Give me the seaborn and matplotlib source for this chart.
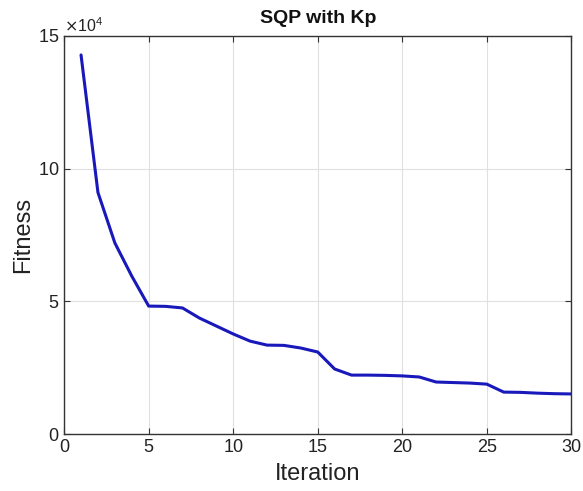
import matplotlib
matplotlib.use("Agg")
import matplotlib.pyplot as plt
import seaborn as sns
import pandas as pd

# Convergence values
iterations = list(range(1, 31))
fitness = [142800, 91000, 72000, 59500, 48200, 48100, 47500, 43700, 40700, 37700,
           35000, 33500, 33400, 32400, 30900, 24500, 22200, 22200, 22100, 21900,
           21500, 19600, 19400, 19200, 18800, 15800, 15700, 15400, 15200, 15100]

x_ticks = [0, 5, 10, 15, 20, 25, 30]
y_ticks = [0, 50000, 100000, 150000]

sns.set_theme(style="whitegrid")
plt.rcParams["font.family"] = ["Liberation Sans", "DejaVu Sans"]

df = pd.DataFrame({"Iteration": iterations, "Fitness": fitness})

fig = plt.figure(figsize=(5.83, 4.91), dpi=100)
ax = fig.add_axes([0.110, 0.116, 0.870, 0.811])

sns.lineplot(data=df, x="Iteration", y="Fitness", ax=ax,
             color="#1818bb", linewidth=2.2)

ax.set_xlim(0, 30)
ax.set_ylim(0, 150000)
ax.set_xticks(x_ticks)
ax.set_yticks(y_ticks)
ax.ticklabel_format(axis="y", style="sci", scilimits=(4, 4), useMathText=True)
ax.yaxis.get_offset_text().set_fontsize(11.5)
ax.yaxis.get_offset_text().set_color("#333333")

ax.grid(True, color="#e0e0e0", linewidth=0.8)
ax.set_facecolor("white")
for s in ax.spines.values():
    s.set_visible(True)
    s.set_color("#333333")
    s.set_linewidth(1.0)

ax.tick_params(direction="in", length=4, width=0.8, color="#333333",
               labelsize=13, labelcolor="#222222",
               top=True, right=True, bottom=True, left=True)

ax.set_xlabel("Iteration", fontsize=17, color="#222222", labelpad=5)
ax.set_ylabel("Fitness", fontsize=17, color="#222222", labelpad=3)
ax.set_title("SQP with Kp", fontsize=14, fontweight="bold", color="#111111", pad=9)

fig.savefig("out.png", dpi=100)
